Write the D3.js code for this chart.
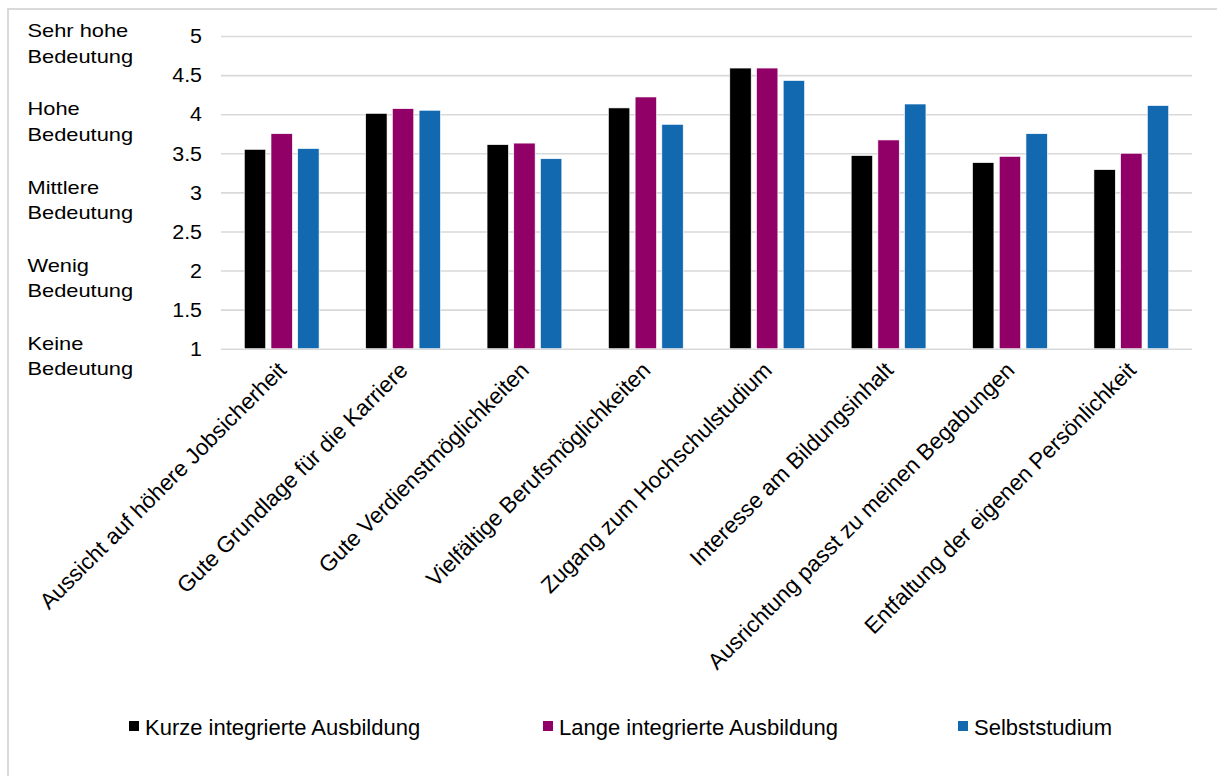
<!DOCTYPE html>
<html>
<head>
<meta charset="utf-8">
<script src="https://cdn.jsdelivr.net/npm/d3@7"></script>
<style>
  html, body { margin: 0; padding: 0; background: #fff; }
  svg { display: block; font-family: "Liberation Sans", Arial, sans-serif; }
</style>
</head>
<body>
<svg id="chart" width="1217" height="776"></svg>
<script>
// Motive für die Wahl des Bildungswegs (Mittelwerte, Skala 1–5)
const categories = [
  "Aussicht auf höhere Jobsicherheit",
  "Gute Grundlage für die Karriere",
  "Gute Verdienstmöglichkeiten",
  "Vielfältige Berufsmöglichkeiten",
  "Zugang zum Hochschulstudium",
  "Interesse am Bildungsinhalt",
  "Ausrichtung passt zu meinen Begabungen",
  "Entfaltung der eigenen Persönlichkeit"
];
const seriesNames = [
  "Kurze integrierte Ausbildung",
  "Lange integrierte Ausbildung",
  "Selbststudium"
];
const kurze = [3.55, 4.01, 3.61, 4.08, 4.59, 3.47, 3.38, 3.29];
const lange = [3.75, 4.07, 3.63, 4.22, 4.59, 3.67, 3.46, 3.50];
const selbst = [3.56, 4.05, 3.43, 3.87, 4.43, 4.13, 3.75, 4.11];
const tickValues = [1, 1.5, 2, 2.5, 3, 3.5, 4, 4.5, 5];
const levelLabels = [
  { value: 5, lines: ["Sehr hohe", "Bedeutung"] },
  { value: 4, lines: ["Hohe", "Bedeutung"] },
  { value: 3, lines: ["Mittlere", "Bedeutung"] },
  { value: 2, lines: ["Wenig", "Bedeutung"] },
  { value: 1, lines: ["Keine", "Bedeutung"] }
];
const colors = ["#000000", "#910067", "#1369b0"];

const seriesValues = [kurze, lange, selbst];
const rows = categories.map((c, i) => ({
  category: c,
  values: seriesValues.map((vals, s) => ({ series: s, value: vals[i] }))
}));

const svg = d3.select("#chart");

// outer chart frame
svg.append("rect")
  .attr("x", 8).attr("y", 9)
  .attr("width", 1220).attr("height", 780)
  .attr("fill", "none").attr("stroke", "#d9d9d9").attr("stroke-width", 2);

const plot = { left: 221, right: 1192, top: 36, bottom: 348.7 };

const y = d3.scaleLinear().domain([1, 5]).range([plot.bottom, plot.top]);
const x0 = d3.scaleBand().domain(categories)
  .range([plot.left, plot.right]).paddingInner(0.384).paddingOuter(0.192);
const x1 = d3.scaleBand().domain(d3.range(seriesNames.length))
  .range([0, x0.bandwidth()]).paddingInner(0.2).paddingOuter(0);

// horizontal gridlines
const yAxis = d3.axisLeft(y).tickValues(tickValues)
  .tickSize(-(plot.right - plot.left)).tickPadding(20)
  .tickFormat(d => String(d));
const gy = svg.append("g")
  .attr("transform", `translate(${plot.left},0)`)
  .call(yAxis);
gy.select(".domain").remove();
gy.selectAll(".tick line").attr("stroke", "#d9d9d9").attr("stroke-width", 1.6);
gy.selectAll(".tick text")
  .attr("fill", "#000").attr("font-size", 20)
  .attr("x", -19).attr("dy", "0.34em")
  .attr("font-family", "'Liberation Sans', Arial, sans-serif")
  .attr("transform", "scale(1.07,1)")
  .style("transform-box", "fill-box").style("transform-origin", "right center");

// bars
const groups = svg.append("g").selectAll("g")
  .data(rows).join("g")
  .attr("transform", d => `translate(${x0(d.category)},0)`);
groups.selectAll("rect")
  .data(d => d.values).join("rect")
  .attr("x", d => x1(d.series))
  .attr("width", x1.bandwidth())
  .attr("y", d => y(d.value))
  .attr("height", d => y(1) - y(d.value))
  .attr("fill", d => colors[d.series])
  .attr("stroke", "#ffffff").attr("stroke-width", 0.6);

// rotated category labels
const xAxis = d3.axisBottom(x0).tickSize(0).tickPadding(0);
const gx = svg.append("g")
  .attr("transform", `translate(0,${plot.bottom})`)
  .call(xAxis);
gx.select(".domain").remove();
gx.selectAll(".tick text")
  .attr("font-size", 22.5).attr("fill", "#000")
  .attr("font-family", "'Liberation Sans', Arial, sans-serif")
  .attr("text-anchor", "end")
  .attr("y", 0).attr("dy", 0)
  .attr("transform", "translate(6,23) rotate(-45)");

// level descriptions to the left of the value axis
const lvl = svg.append("g");
levelLabels.forEach(l => {
  l.lines.forEach((line, k) => {
    lvl.append("text")
      .attr("transform", `translate(27.5,${y(l.value) + 1.3 + k * 25.4}) scale(1.2,1)`)
      .attr("font-size", 18.2)
      .attr("fill", "#000")
      .text(line);
  });
});

// legend
const legendX = [129, 543, 958];
const legend = svg.append("g").selectAll("g")
  .data(seriesNames).join("g")
  .attr("transform", (d, i) => `translate(${legendX[i]},0)`);
legend.append("rect")
  .attr("x", 0).attr("y", 721).attr("width", 10).attr("height", 10)
  .attr("fill", (d, i) => colors[i]);
legend.append("text")
  .attr("x", 16).attr("y", 734.5)
  .attr("font-size", 22).attr("fill", "#000")
  .text(d => d);
</script>
</body>
</html>
